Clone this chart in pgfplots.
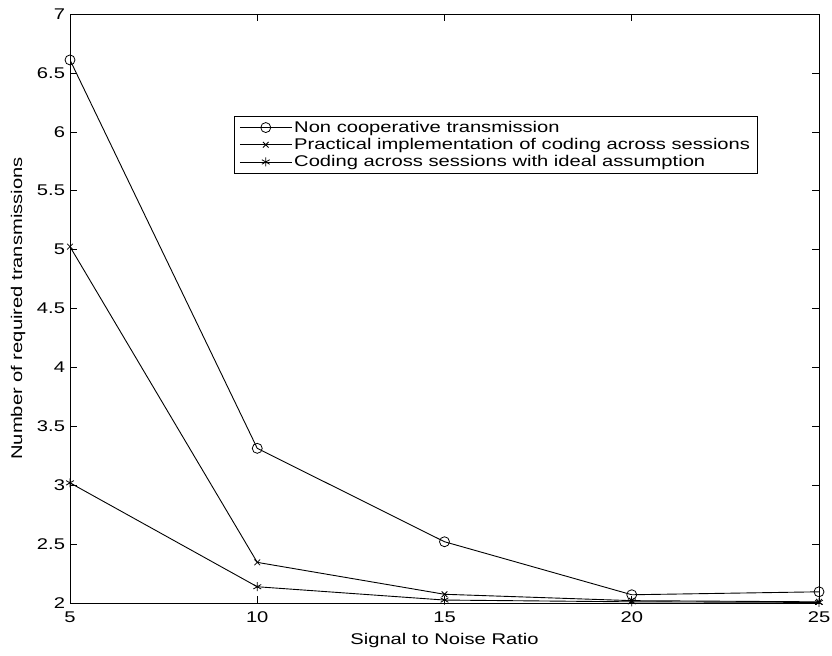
\documentclass[border=0pt]{standalone}
\usepackage{fontspec}
\setmainfont{Liberation Sans}[FakeStretch=1.3]
\usepackage{pgfplots}
\pgfplotsset{compat=1.18}

\begin{document}
\begin{tikzpicture}[font=\fontsize{15.5bp}{17bp}\selectfont]
  \useasboundingbox (-70bp,-53bp) rectangle (762bp,603bp);
  \begin{axis}[
      scale only axis,
      width=749bp, height=589bp,
      xmin=5, xmax=25, ymin=2, ymax=7,
      xtick={5,10,15,20,25},
      ytick={2,2.5,3,3.5,4,4.5,5,5.5,6,6.5,7},
      /pgf/number format/assume math mode=true,
      tick label style={font=\fontsize{15.5bp}{17bp}\selectfont},
      label style={font=\fontsize{15.5bp}{17bp}\selectfont},
      tick align=inside,
      major tick length=7bp,
      axis line style={line width=0.9bp},
      tick style={line width=0.6bp, black},
      xticklabel style={yshift=-5bp},
      yticklabel style={xshift=-1.5bp},
      xlabel={Signal to Noise Ratio},
      ylabel={Number of required transmissions},
      xlabel style={at={(axis description cs:0.5,-0.0645)}, anchor=center},
      ylabel style={at={(axis description cs:-0.0694,0.5)}, anchor=center},
      legend style={at={(0.219,0.827)}, anchor=north west,
        draw=black, line width=0.6bp, inner xsep=5bp, inner ysep=3bp, row sep=0.5bp,
        font=\fontsize{15.5bp}{17bp}\selectfont},
      legend cell align=left,
      legend image code/.code={%
        \draw[mark repeat=2, mark phase=2] plot coordinates {(0bp,0bp) (26bp,0bp) (52bp,0bp)};},
      every axis plot/.append style={black, line width=0.9bp},
    ]
    \addplot[mark=o, mark size=5bp, mark options={line width=0.8bp}]
      coordinates {(5,6.61) (10,3.313) (15,2.52) (20,2.07) (25,2.095)};
    \addlegendentry{Non cooperative transmission}
    \addplot[mark=x, mark size=4bp, mark options={line width=0.8bp}]
      coordinates {(5,5.025) (10,2.345) (15,2.074) (20,2.02) (25,2.01)};
    \addlegendentry{Practical implementation of coding across sessions}
    \addplot[mark=asterisk, mark size=4.5bp, mark options={line width=0.8bp}]
      coordinates {(5,3.02) (10,2.138) (15,2.025) (20,2.01) (25,2.005)};
    \addlegendentry{Coding across sessions with ideal assumption}
  \end{axis}
\end{tikzpicture}
\end{document}
